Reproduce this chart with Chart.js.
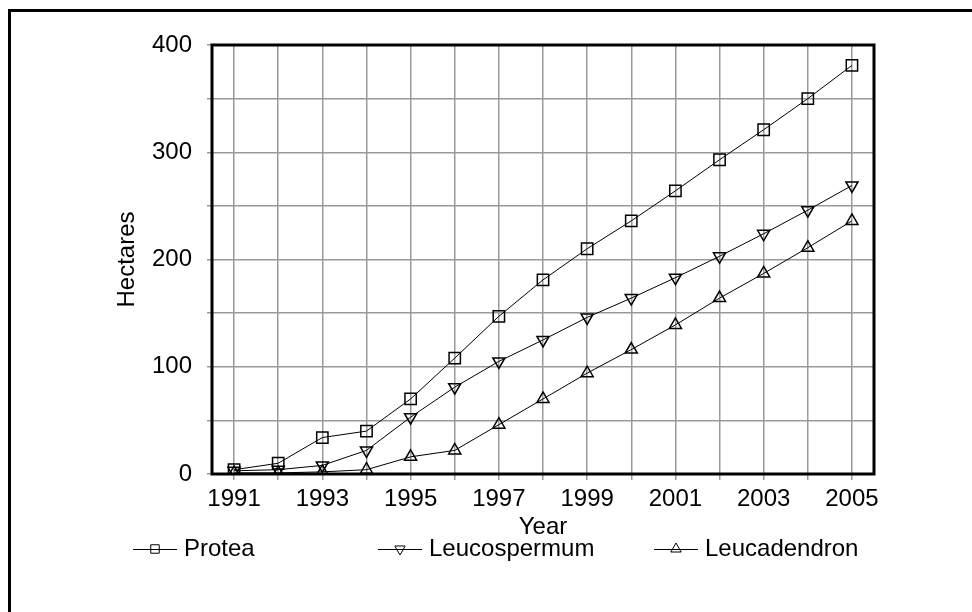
<!DOCTYPE html>
<html>
<head>
<meta charset="utf-8">
<script src="https://cdn.jsdelivr.net/npm/chart.js@4/dist/chart.umd.min.js"></script>
<style>
  html, body { margin: 0; padding: 0; background: #fff; }
  #wrap { position: relative; width: 972px; height: 612px; overflow: hidden; background: #fff; }
  #frame { position: absolute; left: 8px; top: 9px; width: 1000px; height: 700px;
           border-left: 3px solid #000; border-top: 3px solid #000; box-sizing: border-box; }
  canvas { position: absolute; left: 0; top: 0; }
</style>
</head>
<body>
<div id="wrap">
  <div id="frame"></div>
  <canvas id="c" width="972" height="612"></canvas>
</div>
<script>
const years = ['1991','1992','1993','1994','1995','1996','1997','1998','1999','2000','2001','2002','2003','2004','2005'];
const protea = [4, 10, 34, 40, 70, 108, 147, 181, 210, 236, 264, 293, 321, 350, 381];
const leucospermum = [3, 4, 8, 22, 53, 81, 105, 125, 146, 164, 183, 203, 224, 246, 269];
const leucadendron = [1, 1, 2, 4, 16, 22, 46, 70, 94, 116, 139, 164, 187, 211, 236];
const seriesNames = ['Protea', 'Leucospermum', 'Leucadendron'];
const yTickLabels = [0, 100, 200, 300, 400];

const FONT = 'Liberation Sans, Arial, sans-serif';
const FS = 24;

function drawMarker(ctx, style, x, y, r) {
  ctx.beginPath();
  if (style === 'rect') {
    const s = Math.SQRT1_2 * r;
    ctx.rect(x - s, y - s, 2 * s, 2 * s);
  } else if (style === 'up') {
    ctx.moveTo(x, y - r);
    ctx.lineTo(x + r * 0.866, y + r / 2);
    ctx.lineTo(x - r * 0.866, y + r / 2);
    ctx.closePath();
  } else {
    ctx.moveTo(x, y + r);
    ctx.lineTo(x + r * 0.866, y - r / 2);
    ctx.lineTo(x - r * 0.866, y - r / 2);
    ctx.closePath();
  }
  ctx.stroke();
}

const framePlugin = {
  id: 'framePlugin',
  afterDatasetsDraw(chart) {
    const {ctx, chartArea: a} = chart;
    ctx.save();
    ctx.strokeStyle = '#000';
    ctx.lineWidth = 3;
    ctx.strokeRect(a.left, a.top, a.right - a.left, a.bottom - a.top);
    ctx.restore();
  }
};

const legendPlugin = {
  id: 'customLegend',
  afterDraw(chart) {
    const ctx = chart.ctx;
    const items = [
      {x: 133, style: 'rect', text: seriesNames[0]},
      {x: 378, style: 'down', text: seriesNames[1]},
      {x: 654, style: 'up', text: seriesNames[2]}
    ];
    const y = 549;
    ctx.save();
    ctx.strokeStyle = '#000';
    ctx.fillStyle = '#000';
    ctx.font = FS + 'px ' + FONT;
    ctx.textBaseline = 'middle';
    ctx.textAlign = 'left';
    items.forEach(it => {
      ctx.lineWidth = 1;
      ctx.beginPath();
      ctx.moveTo(it.x, y + 0.5);
      ctx.lineTo(it.x + 44, y + 0.5);
      ctx.stroke();
      drawMarker(ctx, it.style, it.x + 22, y, 6);
      ctx.fillText(it.text, it.x + 51, y);
    });
    ctx.restore();
  }
};

const common = {
  borderColor: '#000',
  borderWidth: 1,
  pointBorderColor: '#000',
  pointBackgroundColor: 'rgba(0,0,0,0)',
  pointBorderWidth: 1.5,
  tension: 0,
  fill: false
};

new Chart(document.getElementById('c'), {
  type: 'line',
  data: {
    labels: years,
    datasets: [
      Object.assign({label: seriesNames[0], data: protea, pointStyle: 'rect', pointRadius: 8}, common),
      Object.assign({label: seriesNames[1], data: leucospermum, pointStyle: 'triangle', rotation: 180, pointRadius: 7}, common),
      Object.assign({label: seriesNames[2], data: leucadendron, pointStyle: 'triangle', pointRadius: 7}, common)
    ]
  },
  options: {
    responsive: false,
    animation: false,
    devicePixelRatio: 1,
    layout: { padding: { top: 45, left: 0, right: 98, bottom: 70 } },
    plugins: { legend: { display: false }, tooltip: { enabled: false } },
    scales: {
      x: {
        type: 'category',
        offset: true,
        grid: { offset: false, color: '#999', lineWidth: 1.5, tickLength: 6, drawTicks: true },
        border: { display: false },
        ticks: {
          color: '#000', font: { family: FONT, size: FS }, padding: 5,
          maxRotation: 0, autoSkip: false,
          callback: function(v, i) { return (i % 2 === 0) ? years[i] : ''; }
        },
        title: { display: true, text: 'Year', color: '#000', font: { family: FONT, size: FS }, padding: { top: 0, bottom: 0 } },
        afterFit(scale) { scale.height = 68; }
      },
      y: {
        min: 0, max: 400,
        grid: { color: '#999', lineWidth: 1.5, tickLength: 5, drawTicks: true },
        border: { display: false },
        ticks: {
          stepSize: 50, color: '#000', font: { family: FONT, size: FS }, padding: 15,
          callback: function(v) { return yTickLabels.includes(v) ? String(v) : ''; }
        },
        title: { display: true, text: 'Hectares', color: '#000', font: { family: FONT, size: FS }, padding: { top: 113, bottom: 0 } },
        afterFit(scale) { scale.width = 212; }
      }
    }
  },
  plugins: [framePlugin, legendPlugin]
});
</script>
</body>
</html>
